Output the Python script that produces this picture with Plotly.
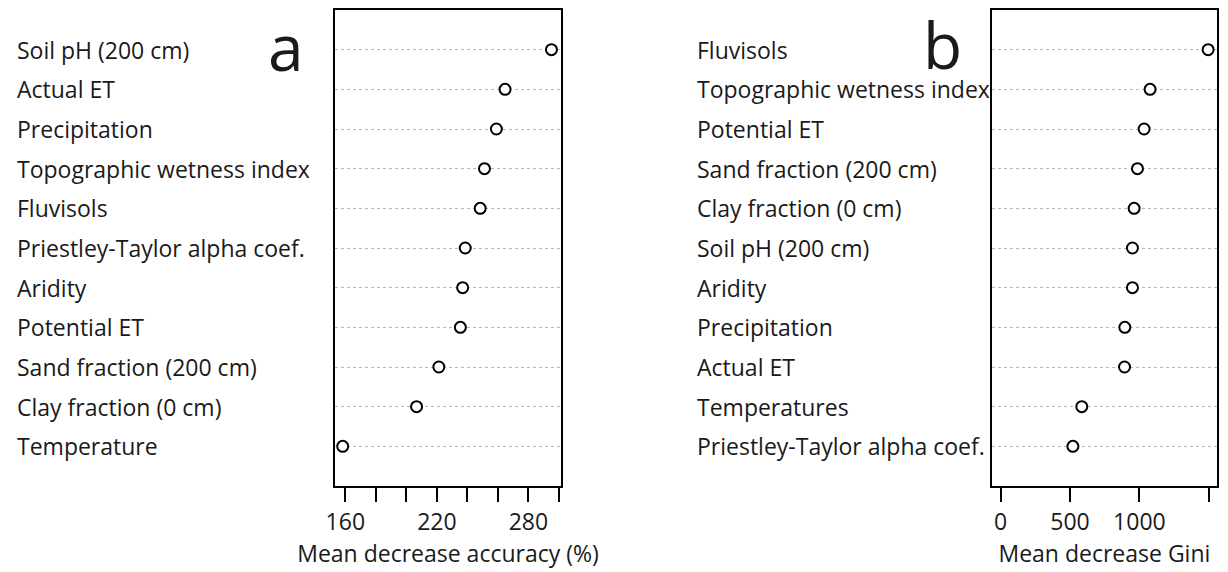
import plotly.graph_objects as go

# Panel a: Mean decrease accuracy (%)
labels_a = ["Soil pH (200 cm)", "Actual ET", "Precipitation", "Topographic wetness index",
            "Fluvisols", "Priestley-Taylor alpha coef.", "Aridity", "Potential ET",
            "Sand fraction (200 cm)", "Clay fraction (0 cm)", "Temperature"]
values_a = [295.1, 264.7, 259.0, 251.2, 248.4, 238.6, 236.9, 235.4, 221.3, 206.7, 158.3]

# Panel b: Mean decrease Gini
labels_b = ["Fluvisols", "Topographic wetness index", "Potential ET", "Sand fraction (200 cm)",
            "Clay fraction (0 cm)", "Soil pH (200 cm)", "Aridity", "Precipitation",
            "Actual ET", "Temperatures", "Priestley-Taylor alpha coef."]
values_b = [1495, 1077, 1034, 986, 962, 950, 950, 895, 893, 585, 521]

ticks_a = [160, 180, 200, 220, 240, 260, 280, 300]
ticktext_a = ["160", "", "", "220", "", "", "280", ""]
ticks_b = [0, 500, 1000, 1500]
ticktext_b = ["0", "500", "1000", ""]

FONT = "Open Sans"
FS = 23
TXT = "#1a1a1a"
ranks = list(range(1, 12))

fig = go.Figure()
marker = dict(symbol="circle", size=11, color="white", line=dict(color="black", width=2))
fig.add_trace(go.Scatter(x=values_a, y=ranks, mode="markers", marker=marker,
                         xaxis="x", yaxis="y", showlegend=False, cliponaxis=False))
fig.add_trace(go.Scatter(x=values_b, y=ranks, mode="markers", marker=marker,
                         xaxis="x2", yaxis="y2", showlegend=False, cliponaxis=False))

W, H = 1228, 572
dom_a = [328.5 / W, 556 / W]
dom_b = [990.5 / W, 1216.5 / W]
dom_y = [1 - 486 / H, 1 - 10 / H]

xcommon = dict(showline=True, linecolor="black", linewidth=2, mirror=True,
               ticks="outside", ticklen=14, tickwidth=2, tickcolor="black",
               showgrid=False, zeroline=False,
               tickfont=dict(family=FONT, size=FS, color=TXT),
               title_font=dict(family=FONT, size=FS, color=TXT),
               title_standoff=9)
ycommon = dict(showline=True, linecolor="black", linewidth=2, mirror=True,
               range=[12, 0], tickvals=ranks, showticklabels=False, ticks="",
               showgrid=True, gridcolor="#b8b8b8", griddash="dot", gridwidth=1,
               zeroline=False)

fig.update_layout(
    width=W, height=H,
    margin=dict(l=0, r=0, t=0, b=0),
    paper_bgcolor="white", plot_bgcolor="white",
    xaxis=dict(domain=dom_a, range=[153.3, 301.3], tickvals=ticks_a, ticktext=ticktext_a,
               title_text="Mean decrease accuracy (%)", anchor="y", **xcommon),
    yaxis=dict(domain=dom_y, anchor="x", **ycommon),
    xaxis2=dict(domain=dom_b, range=[-60, 1556], tickvals=ticks_b, ticktext=ticktext_b,
                title_text="Mean decrease Gini", anchor="y2", **xcommon),
    yaxis2=dict(domain=dom_y, anchor="x2", **ycommon),
)

annotations = []
for lab, r in zip(labels_a, ranks):
    annotations.append(dict(text=lab, xref="paper", yref="y", x=6 / W, y=r,
                            xanchor="left", yanchor="middle", showarrow=False,
                            font=dict(family=FONT, size=FS, color=TXT)))
for lab, r in zip(labels_b, ranks):
    annotations.append(dict(text=lab, xref="paper", yref="y2", x=691 / W, y=r,
                            xanchor="left", yanchor="middle", showarrow=False,
                            font=dict(family=FONT, size=FS, color=TXT)))
annotations.append(dict(text="a", xref="paper", yref="paper", x=279 / W, y=1 - 46 / H,
                        xanchor="center", yanchor="middle", showarrow=False,
                        font=dict(family=FONT, size=64, color=TXT)))
annotations.append(dict(text="b", xref="paper", yref="paper", x=940 / W, y=1 - 45 / H,
                        xanchor="center", yanchor="middle", showarrow=False,
                        font=dict(family=FONT, size=64, color=TXT)))
fig.update_layout(annotations=annotations)

fig.write_html("out.html", config={"displayModeBar": False},
               post_script="document.body.style.margin='0';document.body.style.overflow='hidden';")
